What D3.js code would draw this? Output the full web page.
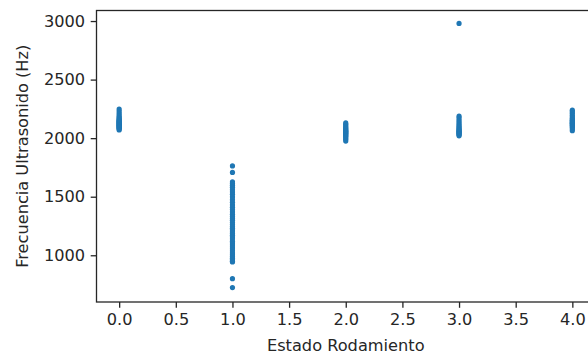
<!DOCTYPE html>
<html>
<head>
<meta charset="utf-8">
<script src="https://d3js.org/d3.v7.min.js"></script>
<style>
  html, body { margin: 0; padding: 0; background: #fff; }
  svg { display: block; }
  text { font-family: "DejaVu Sans", sans-serif; fill: #262626; }
</style>
</head>
<body>
<svg id="chart" width="588" height="356"></svg>
<script>
// Data
const estado0 = [2070, 2078, 2085, 2090, 2095, 2100, 2104, 2108, 2112, 2116, 2120, 2125, 2130, 2134, 2138, 2142, 2147, 2152, 2158, 2165, 2175, 2185, 2200, 2215, 2232, 2248];
const estado1 = [724, 800, 943, 950, 962, 975, 990, 1005, 1020, 1038, 1055, 1070, 1088, 1105, 1120, 1140, 1155, 1170, 1185, 1200, 1215, 1230, 1245, 1262, 1280, 1298, 1315, 1332, 1350, 1370, 1390, 1410, 1430, 1452, 1475, 1498, 1520, 1540, 1560, 1580, 1598, 1612, 1627, 1707, 1763];
const estado2 = [1975, 1990, 2002, 2012, 2020, 2028, 2035, 2040, 2046, 2052, 2058, 2064, 2070, 2078, 2086, 2095, 2105, 2118, 2130];
const estado3 = [2020, 2030, 2036, 2042, 2048, 2054, 2060, 2066, 2072, 2080, 2090, 2100, 2112, 2125, 2140, 2155, 2172, 2188, 2980];
const estado4 = [2064, 2078, 2090, 2100, 2108, 2115, 2122, 2128, 2134, 2140, 2146, 2152, 2160, 2170, 2182, 2196, 2212, 2226, 2239];
const series = [estado0, estado1, estado2, estado3, estado4];
const xTicks = [0.0, 0.5, 1.0, 1.5, 2.0, 2.5, 3.0, 3.5, 4.0];
const yTicks = [1000, 1500, 2000, 2500, 3000];
const xLabel = "Estado Rodamiento";
const yLabel = "Frecuencia Ultrasonido (Hz)";

(function () {
const points = [];
series.forEach((vals, i) => vals.forEach(v => points.push({x: i, y: v})));

const mLeft = 96.5, mRight = 595, mTop = 10.5, mBottom = 302;
const x = d3.scaleLinear().domain([-0.2, 4.2]).range([mLeft, mRight]);
const y = d3.scaleLinear().domain([601, 3090]).range([mBottom, mTop]);

const svg = d3.select("#chart");
const fs = 16.2;
const tickLen = 5.8, tickPad = 5.6;

// points
svg.append("g").selectAll("circle").data(points).enter().append("circle")
  .attr("cx", d => x(d.x)).attr("cy", d => y(d.y)).attr("r", 2.6)
  .attr("fill", "#1f77b4");

// axes
const xAxis = d3.axisBottom(x).tickValues(xTicks).tickFormat(d3.format(".1f"))
  .tickSizeInner(tickLen).tickSizeOuter(0).tickPadding(tickPad);
const yAxis = d3.axisLeft(y).tickValues(yTicks).tickFormat(d3.format("d"))
  .tickSizeInner(tickLen).tickSizeOuter(0).tickPadding(tickPad);

const gx = svg.append("g").attr("transform", `translate(0,${mBottom})`).call(xAxis);
const gy = svg.append("g").attr("transform", `translate(${mLeft},0)`).call(yAxis);
[gx, gy].forEach(g => {
  g.select(".domain").remove();
  g.selectAll(".tick line").attr("stroke", "#262626").attr("stroke-width", 1.3);
  g.selectAll(".tick text").attr("font-family", "DejaVu Sans").attr("font-size", fs).attr("fill", "#262626");
});

// spines
const sp = svg.append("g").attr("fill", "none").attr("stroke", "#262626").attr("stroke-width", 1.3);
sp.append("rect").attr("x", mLeft).attr("y", mTop).attr("width", mRight - mLeft).attr("height", mBottom - mTop);

// labels
svg.append("text").attr("x", (mLeft + mRight) / 2).attr("y", 350.5)
  .attr("text-anchor", "middle").attr("font-size", fs).text(xLabel);
svg.append("text").attr("transform", `translate(27.5,${(mTop + mBottom) / 2}) rotate(-90)`)
  .attr("text-anchor", "middle").attr("font-size", fs).text(yLabel);
})();
</script>
</body>
</html>
